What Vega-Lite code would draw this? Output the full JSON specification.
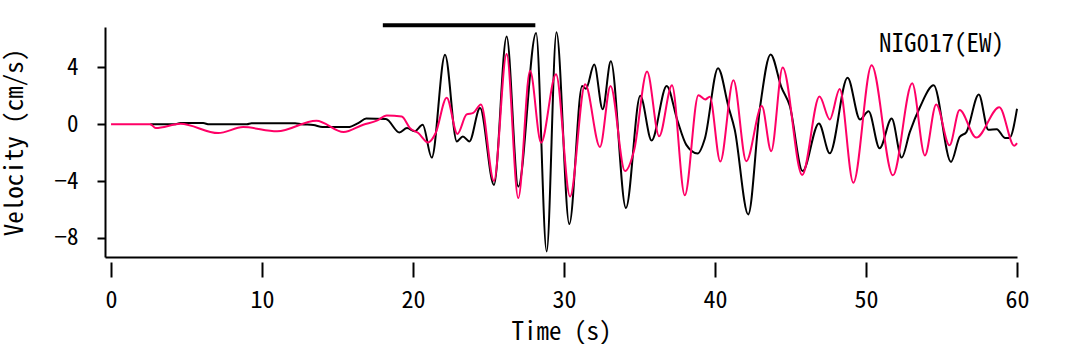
{
  "$schema": "https://vega.github.io/schema/vega-lite/v6.json",
  "autosize": {"type": "none"},
  "padding": {"left": 105, "top": 27, "right": 60, "bottom": 87},
  "width": 912,
  "height": 230,
  "background": "white",
  "config": {
    "view": {"stroke": null},
    "font": "Noto Sans Mono CJK JP, Noto Sans CJK JP, DejaVu Sans Condensed, sans-serif",
    "axis": {"labelFont": "Noto Sans Mono CJK JP, Noto Sans CJK JP, sans-serif", "titleFont": "Noto Sans Mono CJK JP, Noto Sans CJK JP, sans-serif"}
  },
  "datasets": {
    "obs": [
      {"t": 2.6, "v": 0}, {"t": 4.2, "v": 0}, {"t": 4.6, "v": 0.08}, {"t": 6.1, "v": 0.08}, {"t": 6.5, "v": 0},
      {"t": 9.0, "v": 0}, {"t": 9.3, "v": 0.07}, {"t": 12.2, "v": 0.07}, {"t": 12.6, "v": 0}, {"t": 13.4, "v": -0.05},
      {"t": 14.0, "v": -0.2}, {"t": 15.7, "v": -0.2}, {"t": 16.4, "v": 0.1}, {"t": 16.9, "v": 0.4}, {"t": 18.2, "v": 0.37},
      {"t": 19.1, "v": -0.58}, {"t": 19.6, "v": -0.27}, {"t": 20.1, "v": -0.5}, {"t": 20.64, "v": -0.03}, {"t": 21.24, "v": -2.35},
      {"t": 22.12, "v": 4.9}, {"t": 22.9, "v": -1.21}, {"t": 23.3, "v": -0.86}, {"t": 23.73, "v": -1.21}, {"t": 24.44, "v": 1.15},
      {"t": 25.36, "v": -4.27}, {"t": 26.2, "v": 6.18}, {"t": 26.97, "v": -4.39}, {"t": 28.15, "v": 6.43}, {"t": 28.85, "v": -8.96},
      {"t": 29.5, "v": 6.48}, {"t": 30.35, "v": -7.03}, {"t": 31.2, "v": 2.7}, {"t": 31.45, "v": 2.5}, {"t": 32.0, "v": 4.2},
      {"t": 32.56, "v": 1.06}, {"t": 33.1, "v": 4.43}, {"t": 34.1, "v": -5.9}, {"t": 35.05, "v": 2.0}, {"t": 35.8, "v": -1.14},
      {"t": 36.8, "v": 2.7}, {"t": 37.5, "v": 0.3}, {"t": 38.1, "v": -1.45}, {"t": 38.85, "v": -2.06}, {"t": 39.33, "v": -1.0},
      {"t": 40.2, "v": 3.95}, {"t": 40.9, "v": 1.2}, {"t": 41.3, "v": -0.35}, {"t": 42.2, "v": -6.35}, {"t": 42.98, "v": 1.18},
      {"t": 43.68, "v": 4.92}, {"t": 44.4, "v": 2.6}, {"t": 44.95, "v": 1.3}, {"t": 45.8, "v": -3.3}, {"t": 46.88, "v": 0.06},
      {"t": 47.6, "v": -2.05}, {"t": 48.78, "v": 3.28}, {"t": 49.6, "v": 0.34}, {"t": 50.17, "v": 0.92}, {"t": 50.9, "v": -1.69},
      {"t": 51.7, "v": 0.4}, {"t": 52.36, "v": -2.35}, {"t": 52.9, "v": -0.55}, {"t": 53.57, "v": 1.2}, {"t": 54.48, "v": 2.74},
      {"t": 55.63, "v": -2.65}, {"t": 56.2, "v": -0.9}, {"t": 56.65, "v": -0.55}, {"t": 57.47, "v": 2.1}, {"t": 58.1, "v": -0.38},
      {"t": 58.66, "v": -0.35}, {"t": 59.2, "v": -0.96}, {"t": 59.5, "v": -0.97}, {"t": 60.0, "v": 1.09}
    ],
    "syn": [
      {"t": 0, "v": 0}, {"t": 2.6, "v": 0}, {"t": 2.96, "v": -0.27}, {"t": 4.6, "v": 0.03}, {"t": 7.1, "v": -0.62},
      {"t": 8.75, "v": -0.2}, {"t": 11.0, "v": -0.5}, {"t": 13.6, "v": 0.25}, {"t": 15.4, "v": -0.55}, {"t": 16.7, "v": -0.03},
      {"t": 17.6, "v": 0.25}, {"t": 18.26, "v": 0.62}, {"t": 19.25, "v": 0.55}, {"t": 19.8, "v": -0.27}, {"t": 20.35, "v": -0.62},
      {"t": 21.0, "v": -1.28}, {"t": 21.5, "v": -0.62}, {"t": 22.23, "v": 1.87}, {"t": 22.94, "v": -0.68}, {"t": 23.55, "v": 0.69},
      {"t": 23.99, "v": 0.8}, {"t": 24.5, "v": 1.4}, {"t": 25.36, "v": -4.0}, {"t": 26.2, "v": 4.94}, {"t": 26.97, "v": -5.2},
      {"t": 27.75, "v": 3.76}, {"t": 28.48, "v": -1.3}, {"t": 29.47, "v": 3.53}, {"t": 30.4, "v": -5.09}, {"t": 31.4, "v": 2.82},
      {"t": 32.38, "v": -1.6}, {"t": 33.08, "v": 2.7}, {"t": 34.04, "v": -3.3}, {"t": 34.65, "v": -1.8}, {"t": 35.5, "v": 3.72},
      {"t": 36.3, "v": -0.85}, {"t": 37.15, "v": 2.75}, {"t": 38.0, "v": -5.0}, {"t": 38.9, "v": 2.05}, {"t": 39.35, "v": 1.75},
      {"t": 39.65, "v": 1.93}, {"t": 40.35, "v": -2.63}, {"t": 41.22, "v": 3.1}, {"t": 42.07, "v": -2.6}, {"t": 43.1, "v": 1.28},
      {"t": 43.72, "v": -1.9}, {"t": 44.48, "v": 4.0}, {"t": 45.77, "v": -3.57}, {"t": 46.92, "v": 1.95}, {"t": 47.6, "v": 0.34},
      {"t": 48.26, "v": 2.48}, {"t": 49.16, "v": -4.12}, {"t": 50.37, "v": 4.15}, {"t": 51.78, "v": -3.6}, {"t": 53.06, "v": 2.88},
      {"t": 53.9, "v": -2.2}, {"t": 54.65, "v": 1.39}, {"t": 55.53, "v": -1.48}, {"t": 56.2, "v": 1.0}, {"t": 57.3, "v": -0.94},
      {"t": 58.83, "v": 1.2}, {"t": 59.82, "v": -1.52}, {"t": 60.0, "v": -1.33}
    ],
    "bar": [{"t": 18, "t2": 28.1, "v": 6.97}],
    "label": [{"t": 55.0, "v": 5.65, "text": "NIG017(EW)"}]
  },
  "layer": [
    {
      "data": {"name": "obs"},
      "mark": {"type": "line", "color": "black", "strokeWidth": 2, "interpolate": "monotone"},
      "encoding": {
        "x": {"field": "t", "type": "quantitative", "scale": {"domain": [-0.4, 60], "nice": false, "zero": false},
          "axis": {"orient": "bottom", "domain": true, "domainColor": "black", "domainWidth": 2, "ticks": false, "labels": false, "grid": false, "title": null}},
        "y": {"field": "v", "type": "quantitative", "scale": {"domain": [-9.35, 6.85], "nice": false, "zero": false},
          "axis": {"values": [-8, -6, -4, -2, 0, 2, 4, 6], "labelExpr": "datum.value % 4 === 0 ? datum.label : ''",
            "grid": false, "domainColor": "black", "domainWidth": 2, "tickColor": "black", "tickWidth": 2, "tickSize": 8,
            "labelFontSize": 23, "labelColor": "black", "labelPadding": 19, "title": "Velocity (cm/s)", "titleFontSize": 25,
            "titleFontWeight": "normal", "titleColor": "black", "titleX": -91, "titleBaseline": "middle"}}
      }
    },
    {
      "data": {"name": "syn"},
      "mark": {"type": "line", "color": "#ff0066", "strokeWidth": 2, "interpolate": "monotone"},
      "encoding": {
        "x": {"field": "t", "type": "quantitative", "scale": {"domain": [-0.4, 60], "nice": false, "zero": false},
          "axis": {"orient": "bottom", "offset": 5, "domain": false, "values": [0, 10, 20, 30, 40, 50, 60], "grid": false,
            "tickColor": "black", "tickWidth": 2, "tickSize": 15, "labelFontSize": 24, "labelColor": "black", "labelPadding": 11,
            "labelFlush": false, "title": "Time (s)", "titleFontSize": 25, "titleFontWeight": "normal", "titleColor": "black",
            "titleBaseline": "alphabetic", "titleY": 77}},
        "y": {"field": "v", "type": "quantitative", "scale": {"domain": [-9.35, 6.85], "nice": false, "zero": false}}
      }
    },
    {
      "data": {"name": "bar"},
      "mark": {"type": "rule", "color": "black", "strokeWidth": 4},
      "encoding": {
        "x": {"field": "t", "type": "quantitative", "scale": {"domain": [-0.4, 60], "nice": false, "zero": false}, "axis": null},
        "x2": {"field": "t2"},
        "y": {"field": "v", "type": "quantitative", "scale": {"domain": [-9.35, 6.85], "nice": false, "zero": false}}
      }
    },
    {
      "data": {"name": "label"},
      "mark": {"type": "text", "fontSize": 25, "color": "black", "align": "center", "baseline": "middle"},
      "encoding": {
        "x": {"field": "t", "type": "quantitative", "scale": {"domain": [-0.4, 60], "nice": false, "zero": false}, "axis": null},
        "y": {"field": "v", "type": "quantitative", "scale": {"domain": [-9.35, 6.85], "nice": false, "zero": false}},
        "text": {"field": "text"}
      }
    }
  ],
  "resolve": {"axis": {"x": "independent"}}
}
